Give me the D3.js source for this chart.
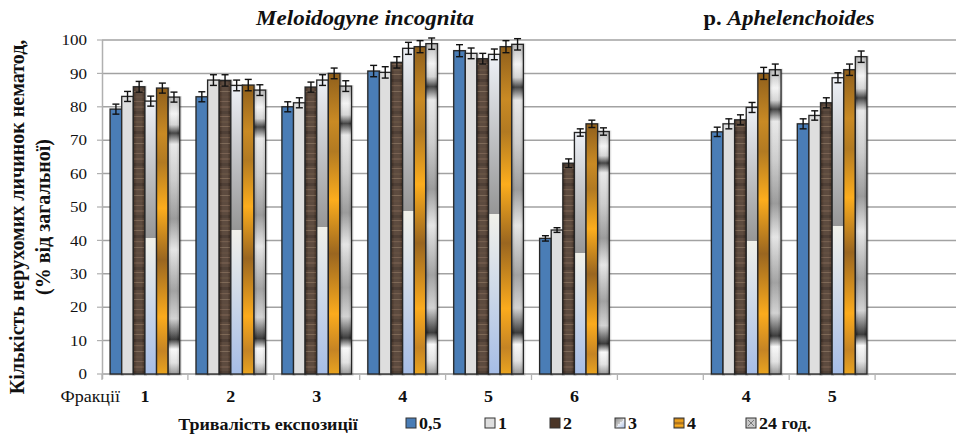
<!DOCTYPE html>
<html><head><meta charset="utf-8">
<script src="https://cdn.jsdelivr.net/npm/d3@7/dist/d3.min.js"></script>
<style>body{margin:0;background:#fff;}</style>
</head><body><svg id="c" width="956" height="437"></svg>
<script>
// ---- data ----
const categories = ["1","2","3","4","5","6","","4","5",""];
const seriesNames = ["0,5","1","2","3","4","24 год."];
const s05 = [79.3, 83.0, 80.0, 90.7, 96.8, 40.6, null, 72.5, 74.9, null];
const s1  = [83.1, 88.0, 81.2, 90.3, 96.0, 43.1, null, 74.9, 77.4, null];
const s2  = [86.0, 87.9, 85.9, 93.3, 94.4, 63.1, null, 76.1, 81.2, null];
const s3  = [81.7, 86.4, 88.0, 97.5, 95.7, 72.3, null, 79.8, 88.7, null];
const s4  = [85.6, 86.5, 90.0, 98.0, 98.0, 74.9, null, 90.0, 91.1, null];
const s24 = [82.9, 85.0, 86.2, 98.9, 98.7, 72.6, null, 91.1, 95.0, null];
const e05 = [1.5, 1.5, 1.5, 1.7, 1.8, 0.8, null, 1.4, 1.5, null];
const e1  = [1.5, 1.6, 1.5, 1.7, 1.6, 0.7, null, 1.5, 1.4, null];
const e2  = [1.6, 1.7, 1.5, 1.7, 1.6, 1.3, null, 1.5, 1.5, null];
const e3  = [1.5, 1.6, 1.6, 1.8, 1.6, 1.1, null, 1.5, 1.5, null];
const e4  = [1.5, 1.7, 1.6, 1.8, 1.8, 1.1, null, 1.8, 1.7, null];
const e24 = [1.5, 1.6, 1.6, 1.7, 1.7, 1.1, null, 1.7, 1.7, null];
const yTicks = [0,10,20,30,40,50,60,70,80,90,100];
const seriesVals = [s05, s1, s2, s3, s4, s24];
const seriesErr = [e05, e1, e2, e3, e4, e24];

const FONT = '"Liberation Serif"';
const BASE = 16;
const svg = d3.select("#c");
const defs = svg.append("defs");

// text helper: renders at base size and scales (sx horizontal, sy vertical)
function label(parent, x, y, sx, sy, opts={}){
  const g = parent.append("g")
    .attr("transform", `translate(${x},${y})${opts.rotate?` rotate(${opts.rotate})`:""} scale(${sx/BASE},${sy/BASE})`);
  const t = g.append("text").attr("x",0).attr("y",0)
    .style("font-family",FONT).attr("font-size",BASE).attr("fill","#111")
    .attr("text-anchor",opts.anchor||"start");
  if(opts.bold) t.attr("font-weight","bold");
  if(opts.italic) t.attr("font-style","italic");
  if(opts.dy) t.attr("dy",opts.dy);
  return t;
}

function grad(id, stops, x2="0", y2="1", x1="0", y1="0"){
  const g = defs.append("linearGradient").attr("id", id)
    .attr("x1",x1).attr("y1",y1).attr("x2",x2).attr("y2",y2);
  stops.forEach(s=>g.append("stop").attr("offset",s[0]).attr("stop-color",s[1]));
}
grad("g3", [[0,"#eef1f7"],[0.5,"#969696"],[0.5,"#f1f1ea"],[1,"#a6bde6"]]);
grad("g4", [[0,"#8f5f1c"],[0.16,"#c98a24"],[0.26,"#b27a22"],[0.42,"#fcad1d"],[0.6,"#9a6620"],[0.8,"#fbab1d"],[0.92,"#c58424"],[1,"#eaa420"]]);
grad("g24", [[0,"#b4b4b4"],[0.06,"#f2f2f2"],[0.1,"#d0d0d0"],[0.13,"#2e2e2e"],[0.17,"#e6e6e6"],[0.3,"#c6c6c6"],[0.44,"#8e8e8e"],[0.55,"#e2e2e2"],[0.7,"#969696"],[0.8,"#cdcdcd"],[0.875,"#222"],[0.91,"#f8f8f8"],[0.96,"#dedede"],[1,"#8c8c8c"]]);
grad("g24h", [[0,"#000"],[0.3,"#fff"],[0.7,"#fff"],[1,"#000"]], "1","0");
grad("gEdge", [[0,"#000"],[0.3,"#fff"],[0.7,"#fff"],[1,"#000"]], "1","0");
const wp = defs.append("pattern").attr("id","wood").attr("patternUnits","userSpaceOnUse")
  .attr("width",400).attr("height",52);
wp.append("rect").attr("width",400).attr("height",52).attr("fill","#4b372a");
const streaks = [[2,"#5e4636",2],[7,"#3e2d22",3],[12,"#6f5643",1],[17,"#55402f",2],[22,"#7a614c",0.8],[27,"#3b2a20",3],[33,"#654c3a",1.2],[39,"#826a54",0.7],[44,"#523c2d",2],[49,"#6a5140",1]];
streaks.forEach(s=>wp.append("rect").attr("x",0).attr("y",s[0]).attr("width",400).attr("height",s[2]).attr("fill",s[1]));
grad("l3", [[0,"#8a8a8a"],[0.5,"#c8c8c8"],[0.5,"#eef0f6"],[1,"#a6bde6"]], "1","1");
grad("l4", [[0,"#a06a20"],[0.3,"#fcad1d"],[0.5,"#9a6620"],[0.75,"#fcad1d"],[1,"#b07a22"]]);

const fills = ["#4a7db6","#dedede","url(#wood)","url(#g3)","url(#g4)","url(#g24)"];

const x0 = d3.scaleBand().domain(d3.range(categories.length)).range([102, 961]).padding(0);
const x1 = d3.scaleBand().domain(d3.range(seriesNames.length)).range([0, x0.bandwidth()]).paddingInner(0).paddingOuter(0.7);
const y = d3.scaleLinear().domain([0,100]).range([374, 40]);

svg.append("g").selectAll("line").data(yTicks).join("line")
  .attr("x1",102).attr("x2",961).attr("y1",d=>y(d)).attr("y2",d=>y(d))
  .attr("stroke","#a2a2a2").attr("stroke-width",1.5);
svg.append("line").attr("x1",102.5).attr("x2",102.5).attr("y1",y(100)).attr("y2",y(0)+5)
  .attr("stroke","#b0b0b0").attr("stroke-width",1.5);
const tickG = svg.append("g");
yTicks.forEach(d=>label(tickG, 87, y(d), 17, 15, {anchor:"end", dy:"0.35em"}).text(d));
svg.append("g").selectAll("line").data(yTicks).join("line")
  .attr("x1",97).attr("x2",102).attr("y1",d=>y(d)).attr("y2",d=>y(d))
  .attr("stroke","#b0b0b0").attr("stroke-width",1.2);
svg.append("line").attr("x1",102).attr("x2",961).attr("y1",y(0)).attr("y2",y(0))
  .attr("stroke","#b4b4b4").attr("stroke-width",1.5);
svg.append("g").selectAll("line").data(d3.range(categories.length+1)).join("line")
  .attr("x1",d=>102+d*x0.step()).attr("x2",d=>102+d*x0.step())
  .attr("y1",y(0)).attr("y2",y(0)+6).attr("stroke","#b4b4b4").attr("stroke-width",1.3);

const bars = [];
categories.forEach((c,i)=>{
  seriesVals.forEach((arr,j)=>{
    if(arr[i]!==null) bars.push({i, j, v:arr[i], e:seriesErr[j][i]});
  });
});
const bg = svg.append("g");
bars.forEach(b=>{
  const bx = x0(b.i)+x1(b.j), bw = x1.bandwidth();
  const top = y(b.v), h = y(0)-top;
  bg.append("rect").attr("x",bx+0.5).attr("y",top+0.5).attr("width",bw).attr("height",h)
    .attr("fill","none").attr("stroke","#000").attr("stroke-opacity",0.12).attr("stroke-width",3);
  bg.append("rect").attr("x",bx).attr("y",top).attr("width",bw).attr("height",h)
    .attr("fill",fills[b.j]);
  if(b.j===2){
    bg.append("rect").attr("x",bx).attr("y",top).attr("width",bw).attr("height",h)
      .attr("fill","url(#gEdge)").attr("opacity",0.1);
  }
  if(b.j===5){
    bg.append("rect").attr("x",bx).attr("y",top).attr("width",bw).attr("height",h)
      .attr("fill","url(#g24h)").attr("opacity",0.12);
  }
  bg.append("rect").attr("x",bx).attr("y",top).attr("width",bw).attr("height",h)
    .attr("fill","none").attr("stroke","#262626").attr("stroke-width",1.3);
});
const eg = svg.append("g").attr("stroke","#111").attr("stroke-width",1.4);
bars.forEach(b=>{
  const cx = x0(b.i)+x1(b.j)+x1.bandwidth()/2;
  const y1 = y(b.v+b.e), y2 = y(b.v-b.e);
  eg.append("line").attr("x1",cx).attr("x2",cx).attr("y1",y1).attr("y2",y2);
  eg.append("line").attr("x1",cx-3.5).attr("x2",cx+3.5).attr("y1",y1).attr("y2",y1);
  eg.append("line").attr("x1",cx-3.5).attr("x2",cx+3.5).attr("y1",y2).attr("y2",y2);
});

const catG = svg.append("g");
categories.forEach((d,i)=>label(catG, x0(i)+x0.bandwidth()/2, 402, 18, 17, {anchor:"middle", bold:true}).text(d));
label(svg, 120, 402, 18, 17, {anchor:"end"}).text("Фракції");

label(svg, 365, 25, 23, 20, {anchor:"middle", bold:true, italic:true}).text("Meloidogyne incognita");
const t2 = label(svg, 789, 25, 22.5, 20, {anchor:"middle", bold:true});
t2.append("tspan").text("р. ");
t2.append("tspan").attr("font-style","italic").text("Aphelenchoides");

label(svg, 24, 217, 20, 20, {anchor:"middle", bold:true, rotate:-90}).text("Кількість нерухомих личинок нематод,");
label(svg, 50, 217, 20, 20, {anchor:"middle", bold:true, rotate:-90}).text("(% від загальної)");

label(svg, 268, 430, 18, 17, {anchor:"middle", bold:true}).text("Тривалість експозиції");
const legX = [406, 485, 550, 615, 674, 746];
const legFill = ["#4a7db6","#dedede","#4a3527","url(#l3)","url(#l4)","#c8c8c8"];
seriesNames.forEach((n,j)=>{
  const g = svg.append("g").attr("transform",`translate(${legX[j]},418)`);
  g.append("rect").attr("width",10).attr("height",10).attr("fill",legFill[j])
    .attr("stroke","#333").attr("stroke-width",1);
  if(j===5){
    g.append("path").attr("d","M2,2L8,8M8,2L2,8").attr("stroke","#777").attr("stroke-width",1);
  }
  label(g, 13, 11, 18, 17, {bold:true}).text(n);
});
</script></body></html>
